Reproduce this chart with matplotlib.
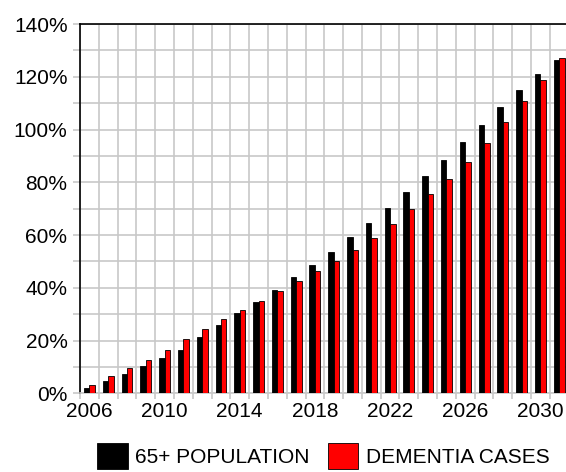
import numpy as np
import matplotlib
matplotlib.use('Agg')
import matplotlib.pyplot as plt
from matplotlib.ticker import MultipleLocator, FuncFormatter

plt.rcParams['font.family'] = ['Liberation Sans', 'DejaVu Sans']

years = np.arange(2006, 2032)
pop65 = [2.1, 4.7, 7.5, 10.4, 13.2, 16.5, 21.4, 26.0, 30.3, 34.8, 39.2, 44.0, 48.7,
         53.7, 59.1, 64.6, 70.3, 76.2, 82.2, 88.6, 95.2, 101.8, 108.4, 115.1, 121.1, 126.3]
dementia = [3.2, 6.5, 9.6, 12.7, 16.5, 20.4, 24.2, 28.0, 31.5, 35.1, 38.8, 42.6, 46.5,
            50.3, 54.5, 58.9, 64.3, 69.7, 75.4, 81.1, 87.6, 95.0, 102.8, 110.8, 118.8, 127.1]
labels = ['65+ POPULATION', 'DEMENTIA CASES']

fig = plt.figure(figsize=(5.66, 4.72), dpi=100)
ax = fig.add_axes([80 / 566, 78.7 / 472, 1 - 80 / 566, (448 - 78.7) / 472])

w = 0.29
grid_c = '#c8c8c8'
ax.bar(years - w / 2, pop65, width=w, color='black', edgecolor='black', linewidth=0.6,
       label=labels[0], zorder=3)
ax.bar(years + w / 2, dementia, width=w, color='#ff0000', edgecolor='black', linewidth=0.6,
       label=labels[1], zorder=3)

ax.set_xlim(2005.5, 2031.36)
ax.set_ylim(0, 140)

ax.xaxis.set_major_locator(MultipleLocator(4, offset=2))
ax.xaxis.set_minor_locator(MultipleLocator(1, offset=0.5))
ax.yaxis.set_major_locator(MultipleLocator(20))
ax.yaxis.set_minor_locator(MultipleLocator(10))
ax.yaxis.set_major_formatter(FuncFormatter(lambda v, p: f'{v:.0f}%'))

ax.tick_params(axis='x', which='major', length=0, pad=6, labelsize=15)
ax.tick_params(axis='x', which='minor', length=4, width=1.2, color=grid_c)
ax.tick_params(axis='y', which='both', length=5, width=1.2, color=grid_c, pad=4, labelsize=15)

ax.grid(True, which='both', color=grid_c, linewidth=1.2, zorder=0)
ax.grid(False, axis='x', which='major')
ax.set_axisbelow(True)

for s in ['left', 'top']:
    ax.spines[s].set_color('black')
    ax.spines[s].set_linewidth(1.2)
ax.spines['right'].set_visible(False)
ax.spines['bottom'].set_color(grid_c)
ax.spines['bottom'].set_linewidth(1.2)

fig.legend(loc='center', bbox_to_anchor=(0.5714, 0.034), ncol=2, frameon=False,
           fontsize=15, handlelength=1.45, handleheight=1.5, handletextpad=0.36,
           columnspacing=0.88, borderpad=0)

fig.savefig('out.png', dpi=100)
